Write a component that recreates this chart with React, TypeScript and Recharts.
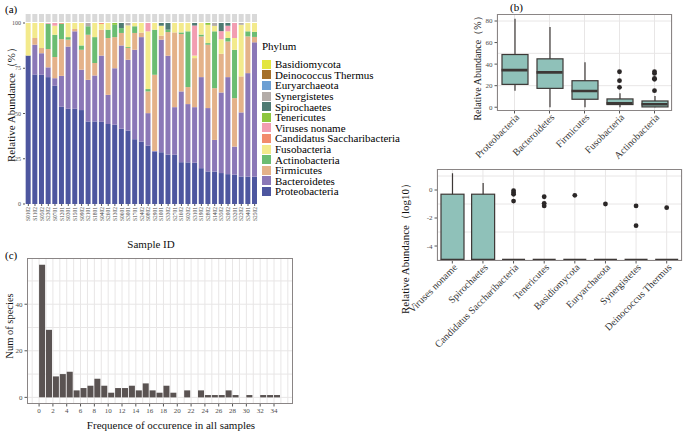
import React from 'react';
import { BarChart, Bar, ComposedChart, Scatter, XAxis, YAxis, CartesianGrid } from 'recharts';

const FONT = '"Liberation Serif", "Times New Roman", serif';
const TICK_INK = '#4d4d4d';
const BOX_INK = '#3d3836';
const GRID = '#e8e6e6';
const FRAME = '#8a8585';

// ---------- (a) phylum composition per sample ----------
const sampleIds = [
  'S0102', 'S1102', 'S0502', 'S2302', 'S0701', 'S1201', 'S0301', 'S1501', 'S0902', 'S2101',
  'S1801', 'S0402', 'S2601', 'S1302', 'S0601', 'S3001', 'S1701', 'S2402', 'S0802', 'S2901',
  'S1001', 'S3302', 'S2701', 'S1602', 'S0202', 'S3101', 'S1902', 'S2802', 'S1402', 'S3502',
  'S2002', 'S3201', 'S2202', 'S3401', 'S2502',
];
const proteobacteria = [82, 71.5, 71.4, 70.1, 65.3, 53.7, 52.6, 52.6, 51.9, 45.6, 45.6, 45.4, 44.2, 43.8, 41.6, 40.6, 35.8, 34.5, 32.3, 29.0, 28.6, 27.3, 27.2, 23.1, 23.0, 22.8, 19.8, 18.0, 17.9, 17.1, 16.5, 16.2, 15.2, 15.1, 15.0];
const bacteroidetes = [0, 16.5, 11.9, 5.4, 4.2, 17.1, 34.4, 42.8, 22.3, 23.0, 25.4, 36.6, 16.1, 31.2, 46.0, 39.1, 49.4, 57.7, 17.9, 0.3, 62.2, 54.6, 26.3, 39.1, 32.2, 30.7, 50.3, 35.0, 17.5, 44.5, 53.6, 15.5, 35.4, 57.2, 74.3];
const firmicutes = [0, 3.7, 2.9, 10.1, 11.7, 20.3, 3.8, 1.3, 11.0, 24.9, 6.9, 14.2, 31.4, 17.2, 6.9, 6.5, 9.3, 2.5, 12.0, 42.1, 2.2, 13.1, 41.3, 31.7, 9.4, 27.1, 22.5, 35.0, 28.6, 21.4, 19.7, 26.8, 19.9, 20.3, 3.0];
const actinobacteria = [0, 0, 0, 14.0, 12.3, 8.5, 1.4, 0, 2.4, 4.7, 14.3, 0, 4.6, 6.8, 2.7, 0.5, 3.7, 0, 1.3, 24.9, 0, 1.3, 0, 0.9, 30.8, 0, 1.0, 0.9, 31.4, 0, 1.9, 26.7, 0, 2.8, 2.8];
const fusobacteria = [18, 8.3, 13.8, 0, 5.0, 0, 7.8, 3.3, 12.4, 0, 7.8, 3.3, 3.7, 0, 0, 12.0, 1.8, 5.3, 31.9, 3.7, 5.5, 0, 5.2, 5.2, 4.6, 1.4, 6.4, 10.1, 3.0, 8.0, 3.7, 6.5, 28.5, 4.6, 4.9];
const saccharibacteria = [0, 0, 0, 0, 0, 0.4, 0, 0, 0, 0, 0, 0.5, 0, 0, 0, 0, 0, 0, 0, 0, 0, 0, 0, 0, 0, 0, 0, 0, 0, 0, 0, 0, 0, 0, 0];
const virusesNoname = [0, 0, 0, 0.4, 1.5, 0, 0, 0, 0, 0, 0, 0, 0, 0, 0, 0, 0, 0, 4.6, 0, 0, 0, 0, 0, 0, 16.6, 0, 0, 0, 4.5, 3.1, 8.3, 0, 0, 0];
const tenericutes = [0, 0, 0, 0, 0, 0, 0, 0, 0, 0, 0, 0, 0, 1.0, 0, 0, 0, 0, 0, 0, 0, 0, 0, 0, 0, 0, 0, 1.0, 0, 0, 0, 0, 0, 0, 0];
const spirochaetes = [0, 0, 0, 0, 0, 0, 0, 0, 0, 0, 0, 0, 0, 0, 2.8, 0, 0, 0, 0, 0, 1.5, 3.7, 0, 0, 0, 1.4, 0, 0, 0, 4.5, 1.5, 0, 0, 0, 0];
const synergistetes = [0, 0, 0, 0, 0, 0, 0, 0, 0, 1.8, 0, 0, 0, 0, 0, 1.3, 0, 0, 0, 0, 0, 0, 0, 0, 0, 0, 0, 0, 1.6, 0, 0, 0, 1.0, 0, 0];
const euryarchaeota = new Array(35).fill(0);
const deinococcus = new Array(35).fill(0);
const basidiomycota = new Array(35).fill(0);

// bottom of the stack first
const phyla = [
  { name: 'Proteobacteria', values: proteobacteria, color: '#4d569f' },
  { name: 'Bacteroidetes', values: bacteroidetes, color: '#8b78b7' },
  { name: 'Firmicutes', values: firmicutes, color: '#e4b289' },
  { name: 'Actinobacteria', values: actinobacteria, color: '#6bbd72' },
  { name: 'Fusobacteria', values: fusobacteria, color: '#f3ea8c' },
  { name: 'Candidatus Saccharibacteria', values: saccharibacteria, color: '#f28b6c' },
  { name: 'Viruses noname', values: virusesNoname, color: '#f29db1' },
  { name: 'Tenericutes', values: tenericutes, color: '#8dc63f' },
  { name: 'Spirochaetes', values: spirochaetes, color: '#4f7a72' },
  { name: 'Synergistetes', values: synergistetes, color: '#b3aca8' },
  { name: 'Euryarchaeota', values: euryarchaeota, color: '#6d9fd3' },
  { name: 'Deinococcus Thermus', values: deinococcus, color: '#a57029' },
  { name: 'Basidiomycota', values: basidiomycota, color: '#e3e63f' },
];

const compositionRows = sampleIds.map((id, i) => {
  const row: Record<string, any> = { id };
  phyla.forEach((p) => (row[p.name] = p.values[i]));
  return row;
});
const stripRows = sampleIds.map((id) => ({ id, strip: 1 }));

// ---------- (b) dominant phyla, relative abundance ----------
const topPhyla = ['Proteobacteria', 'Bacteroidetes', 'Firmicutes', 'Fusobacteria', 'Actinobacteria'];
const topMin = [15.3, 0, 0, 0, 0];
const topQ1 = [21.2, 17.5, 7.4, 2.5, 0.3];
const topMedian = [34.4, 32.3, 15.0, 3.7, 2.7];
const topQ3 = [48.9, 44.9, 24.6, 7.7, 5.8];
const topMax = [82.2, 74.4, 41.8, 12.9, 10.5];
const topOutliers = [[], [], [], [18.5, 24.6, 32.9], [15.4, 25.9, 26.8, 31.4, 32.9]];

// ---------- (b) rare phyla, log10 abundance ----------
const rarePhyla = ['Viruses noname', 'Spirochaetes', 'Candidatus Saccharibacteria', 'Tenericutes', 'Basidiomycota', 'Euryarchaeota', 'Synergistetes', 'Deinococcus Thermus'];
const rareMin = [-5, -5, -5, -5, -5, -5, -5, -5];
const rareQ1 = [-5, -5, -5, -5, -5, -5, -5, -5];
const rareMedian = [-5, -5, -5, -5, -5, -5, -5, -5];
const rareQ3 = [-0.3, -0.3, -5, -5, -5, -5, -5, -5];
const rareMax = [1.2, 0.5, -5, -5, -5, -5, -5, -5];
const rareOutliers = [[], [], [-0.05, -0.19, -0.31, -0.79], [-0.48, -0.95, -1.14], [-0.38], [-1.0], [-1.14, -2.55], [-1.26]];

function boxRows(names: string[], mn: number[], q1: number[], md: number[], q3: number[], mx: number[], out: number[][]) {
  return names.map((name, i) => {
    const row: Record<string, any> = { name, whisker: [mn[i], mx[i]], box: [q1[i], q3[i]], med: md[i] };
    out[i].forEach((v, j) => (row['o' + j] = v));
    return row;
  });
}
const topRows = boxRows(topPhyla, topMin, topQ1, topMedian, topQ3, topMax, topOutliers);
const rareRows = boxRows(rarePhyla, rareMin, rareQ1, rareMedian, rareQ3, rareMax, rareOutliers);

// ---------- (c) occurrence histogram ----------
const occurrenceBins = [0, 1, 2, 3, 4, 5, 6, 7, 8, 9, 10, 11, 12, 13, 14, 15, 16, 17, 18, 19, 20, 21, 22, 23, 24, 25, 26, 27, 28, 29, 30, 31, 32, 33, 34];
const speciesCounts = [57, 29, 9, 10, 11, 3, 4, 5, 8, 5, 2, 4, 4, 5, 3, 6, 3, 2, 5, 2, 0, 3, 0, 3, 1, 1, 1, 3, 1, 0, 1, 0, 1, 1, 1];
const occurrenceTicks = [0, 2, 4, 6, 8, 10, 12, 14, 16, 18, 20, 22, 24, 26, 28, 30, 32, 34];
const histRows = occurrenceBins.map((b, i) => ({ mid: b + 0.5, count: speciesCounts[i] }));

// ---------- shapes & ticks ----------
function SampleTick({ x, y, payload }: any) {
  return (
    <text x={x} y={y} transform={`rotate(-90 ${x} ${y})`} textAnchor="end" dominantBaseline="central"
      fontSize={5.5} fill={TICK_INK} fontFamily={FONT}>
      {payload.value}
    </text>
  );
}

function SlantTick({ x, y, payload }: any) {
  return (
    <g transform={`translate(${x + 3},${y + 2})`}>
      <text transform="rotate(-45)" textAnchor="end" dominantBaseline="central" fontSize={10} fill="#333" fontFamily={FONT}>
        {payload.value}
      </text>
    </g>
  );
}

const Whisker = (p: any) => {
  const top = Math.min(p.y, p.y + p.height);
  const h = Math.abs(p.height);
  const cx = p.x + p.width / 2;
  return <line x1={cx} x2={cx} y1={top} y2={top + h} stroke={BOX_INK} strokeWidth={1.2} />;
};

const BoxBody = (p: any) => {
  const top = Math.min(p.y, p.y + p.height);
  const h = Math.abs(p.height);
  if (!h) return <g />;
  return <rect x={p.x} y={top} width={p.width} height={h} fill="#8fc1b9" stroke={BOX_INK} strokeWidth={1.2} />;
};

const medianMark = (w: number) => (p: any) =>
  p.cy == null || isNaN(p.cy) ? <g /> : (
    <line x1={p.cx - w / 2} x2={p.cx + w / 2} y1={p.cy} y2={p.cy} stroke={BOX_INK} strokeWidth={2.6} />
  );

const OutlierDot = (p: any) =>
  p.cy == null || isNaN(p.cy) ? <g /> : <circle cx={p.cx} cy={p.cy} r={2.4} fill="#2b2727" />;

function Text({ x, y, size, rotate = 0, children }: any) {
  return (
    <div style={{ position: 'absolute', left: x, top: y, fontSize: size, lineHeight: 1, whiteSpace: 'nowrap',
      transform: `translate(-50%,-50%) rotate(${rotate}deg)`, color: '#111' }}>
      {children}
    </div>
  );
}

function Frame({ x, y, w, h }: any) {
  return <div style={{ position: 'absolute', left: x, top: y, width: w, height: h, border: `1px solid ${FRAME}`, boxSizing: 'border-box', pointerEvents: 'none' }} />;
}

export default function App() {
  return (
    <div style={{ position: 'absolute', left: 0, top: 0, width: 685, height: 432, background: '#fff', fontFamily: FONT, overflow: 'hidden' }}>
      {/* (a) */}
      <div style={{ position: 'absolute', left: 0, top: 14 }}>
        <BarChart width={262} height={8} data={stripRows} margin={{ top: 0, right: 4, left: 25, bottom: 0 }} barCategoryGap="10%">
          <XAxis dataKey="id" hide height={0} />
          <YAxis hide domain={[0, 1]} width={0} />
          <Bar dataKey="strip" fill="#d9d9d9" isAnimationActive={false} />
        </BarChart>
      </div>
      <div style={{ position: 'absolute', left: 0, top: 0 }}>
        <BarChart width={262} height={250} data={compositionRows} margin={{ top: 23, right: 4, left: 0, bottom: 0 }} barCategoryGap="10%">
          <XAxis dataKey="id" interval={0} height={46} tick={SampleTick} tickSize={2} tickMargin={1} tickLine={{ stroke: '#555' }} axisLine={false} />
          <YAxis domain={[0, 100]} ticks={[0, 25, 50, 75, 100]} width={25} tick={{ fontSize: 6, fill: TICK_INK }} tickSize={2} tickLine={{ stroke: '#555' }} axisLine={false} />
          {phyla.map((p) => (
            <Bar key={p.name} dataKey={p.name} stackId="a" fill={p.color} isAnimationActive={false} />
          ))}
        </BarChart>
      </div>
      <Text x={11} y={102} size={11} rotate={-90}>Relative Abundance（%）</Text>
      <Text x={151} y={244} size={11}>Sample ID</Text>
      <div style={{ position: 'absolute', left: 5, top: 3, fontSize: 11 }}>(a)</div>
      <div style={{ position: 'absolute', left: 262, top: 40 }}>
        <div style={{ fontSize: 11, lineHeight: '12px', marginBottom: 7 }}>Phylum</div>
        {[...phyla].reverse().map((p) => (
          <div key={p.name} style={{ display: 'flex', alignItems: 'center', height: 10.6, fontSize: 11 }}>
            <span style={{ width: 9, height: 9, background: p.color, marginRight: 4, flex: 'none' }} />
            <span style={{ whiteSpace: 'nowrap' }}>{p.name}</span>
          </div>
        ))}
      </div>

      {/* (b) top */}
      <div style={{ position: 'absolute', left: 510, top: 1, fontSize: 11 }}>(b)</div>
      <div style={{ position: 'absolute', left: 440, top: 0 }}>
        <ComposedChart width={240} height={160} data={topRows} margin={{ top: 14, right: 8, left: 0, bottom: 0 }}>
          <CartesianGrid xAxisId="main" stroke={GRID} horizontalValues={[0, 10, 20, 30, 40, 50, 60, 70, 80]} />
          <XAxis xAxisId="main" dataKey="name" interval={0} height={49} tick={SlantTick} tickSize={2.5} tickMargin={0} tickLine={{ stroke: '#555' }} axisLine={false} />
          <XAxis xAxisId="over" dataKey="name" hide height={0} />
          <YAxis domain={[-3.5, 86.5]} ticks={[0, 20, 40, 60, 80]} allowDataOverflow width={57} tick={{ fontSize: 7, fill: TICK_INK }} tickSize={2.5} tickLine={{ stroke: '#555' }} axisLine={false} />
          <Bar xAxisId="main" dataKey="whisker" barSize={26} shape={Whisker} isAnimationActive={false} />
          <Bar xAxisId="over" dataKey="box" barSize={26} shape={BoxBody} isAnimationActive={false} />
          <Scatter xAxisId="main" dataKey="med" shape={medianMark(26)} isAnimationActive={false} />
          {[0, 1, 2, 3, 4].map((j) => (
            <Scatter key={j} xAxisId="main" dataKey={'o' + j} shape={OutlierDot} isAnimationActive={false} />
          ))}
        </ComposedChart>
      </div>
      <Frame x={497} y={14} w={175} h={97} />
      <Text x={478} y={66} size={10} rotate={-90}>Relative Abundance（%）</Text>

      {/* (b) bottom */}
      <div style={{ position: 'absolute', left: 380, top: 140 }}>
        <ComposedChart width={305} height={260} data={rareRows} margin={{ top: 29, right: 3, left: 0, bottom: 0 }}>
          <CartesianGrid xAxisId="main" stroke={GRID} horizontalValues={[-5, -4, -3, -2, -1, 0, 1]} />
          <XAxis xAxisId="main" dataKey="name" interval={0} height={139} tick={SlantTick} tickSize={2.5} tickMargin={0} tickLine={{ stroke: '#555' }} axisLine={false} />
          <XAxis xAxisId="over" dataKey="name" hide height={0} />
          <YAxis domain={[-5.07, 1.5]} ticks={[-4, -2, 0]} allowDataOverflow width={57} tick={{ fontSize: 7, fill: TICK_INK }} tickSize={2.5} tickLine={{ stroke: '#555' }} axisLine={false} />
          <Bar xAxisId="main" dataKey="whisker" barSize={23} shape={Whisker} isAnimationActive={false} />
          <Bar xAxisId="over" dataKey="box" barSize={23} shape={BoxBody} isAnimationActive={false} />
          <Scatter xAxisId="main" dataKey="med" shape={medianMark(23)} isAnimationActive={false} />
          {[0, 1, 2, 3].map((j) => (
            <Scatter key={j} xAxisId="main" dataKey={'o' + j} shape={OutlierDot} isAnimationActive={false} />
          ))}
        </ComposedChart>
      </div>
      <Frame x={437} y={169} w={245} h={92} />
      <Text x={405} y={246} size={11} rotate={-90}>Relative Abundance（log10）</Text>

      {/* (c) */}
      <div style={{ position: 'absolute', left: 5, top: 249, fontSize: 11 }}>(c)</div>
      <div style={{ position: 'absolute', left: 0, top: 250 }}>
        <BarChart width={300} height={182} data={histRows} margin={{ top: 8, right: 7, left: 0, bottom: 0 }}>
          <CartesianGrid stroke={GRID} horizontalValues={[0, 10, 20, 30, 40, 50]}
            verticalValues={[-1, 0, 1, 2, 3, 4, 5, 6, 7, 8, 9, 10, 11, 12, 13, 14, 15, 16, 17, 18, 19, 20, 21, 22, 23, 24, 25, 26, 27, 28, 29, 30, 31, 32, 33, 34, 35, 36]} />
          <XAxis dataKey="mid" type="number" domain={[-1.75, 36.75]} ticks={occurrenceTicks} interval={0} allowDataOverflow height={28}
            tick={{ fontSize: 7, fill: TICK_INK }} tickSize={2.5} tickLine={{ stroke: '#555' }} axisLine={false} />
          <YAxis domain={[-2.85, 59.85]} ticks={[0, 20, 40]} allowDataOverflow width={27} tick={{ fontSize: 7, fill: TICK_INK }} tickSize={2.5} tickLine={{ stroke: '#555' }} axisLine={false} />
          <Bar dataKey="count" fill="#5a5352" barSize={6} isAnimationActive={false} />
        </BarChart>
      </div>
      <Frame x={27} y={258} w={266} h={146} />
      <Text x={10} y={326} size={10.5} rotate={-90}>Num of species</Text>
      <Text x={171} y={425} size={11}>Frequence of occurence in all samples</Text>
    </div>
  );
}
